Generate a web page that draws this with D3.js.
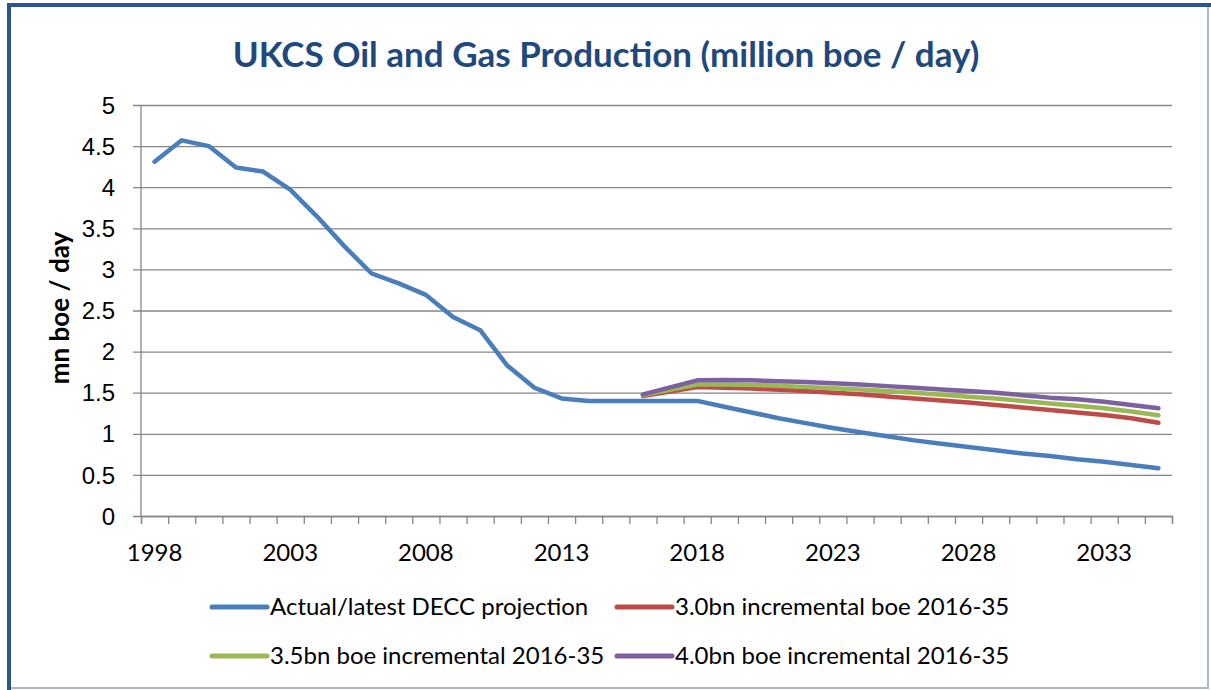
<!DOCTYPE html>
<html>
<head>
  <meta charset="utf-8">
  <script src="https://d3js.org/d3.v7.min.js"></script>
<style>
  body { margin: 0; background: #fff; }
  svg { display: block; font-family: Lato, "Open Sans", sans-serif; }
  .grid line { stroke: #868686; stroke-width: 1.3; }
  .tick-lbl { font-size: 24px; fill: #000; }
  .series { fill: none; stroke-width: 4.5; stroke-linejoin: round; stroke-linecap: round; }
</style>
</head>
<body>
<script>
  // years on the category axis
  var years = d3.range(1998, 2036);
  var yTicks = [0, 0.5, 1, 1.5, 2, 2.5, 3, 3.5, 4, 4.5, 5];
  var xLabelYears = [1998, 2003, 2008, 2013, 2018, 2023, 2028, 2033];

  // Actual / latest DECC projection, 1998-2035
  var actual = [4.31, 4.57, 4.50, 4.24, 4.19, 3.97, 3.64, 3.28, 2.95, 2.83,
                2.69, 2.42, 2.26, 1.83, 1.56, 1.43, 1.40, 1.40, 1.40, 1.40,
                1.40, 1.33, 1.26, 1.19, 1.13, 1.07, 1.02, 0.97, 0.92, 0.88,
                0.84, 0.80, 0.76, 0.73, 0.69, 0.66, 0.62, 0.58];

  // incremental scenarios, 2016-2035
  var projYears = d3.range(2016, 2036);
  var inc30 = [1.46, 1.515, 1.57, 1.56, 1.55, 1.535, 1.52, 1.50, 1.48, 1.455,
               1.43, 1.405, 1.38, 1.35, 1.32, 1.29, 1.26, 1.23, 1.19, 1.135];
  var inc35 = [1.47, 1.535, 1.60, 1.60, 1.595, 1.585, 1.57, 1.555, 1.54, 1.52,
               1.50, 1.475, 1.45, 1.43, 1.40, 1.37, 1.34, 1.31, 1.27, 1.225];
  var inc40 = [1.48, 1.565, 1.65, 1.655, 1.65, 1.64, 1.63, 1.615, 1.60, 1.58,
               1.56, 1.54, 1.52, 1.50, 1.47, 1.44, 1.42, 1.39, 1.35, 1.31];

  var seriesNames = ["Actual/latest DECC projection", "3.0bn incremental boe 2016-35",
                     "3.5bn boe incremental 2016-35", "4.0bn boe incremental 2016-35"];
  var colors = ["#4A7EBB", "#BE4B48", "#98B954", "#7D60A0"];

  var W = 1211, H = 690;
  var svg = d3.select("body").append("svg")
      .attr("width", W)
      .attr("height", H);

  // chart frame
  svg.append("line").attr("x1", 1208).attr("x2", 1208).attr("y1", 4).attr("y2", 689)
      .attr("stroke", "#A9B8CB").attr("stroke-width", 2);
  svg.append("line").attr("x1", 9).attr("x2", 1209).attr("y1", 688).attr("y2", 688)
      .attr("stroke", "#A9B8CB").attr("stroke-width", 2);
  svg.append("line").attr("x1", 9).attr("x2", 9).attr("y1", 4).attr("y2", 690)
      .attr("stroke", "#2B5690").attr("stroke-width", 4);
  svg.append("line").attr("x1", 7).attr("x2", 1211).attr("y1", 5).attr("y2", 5)
      .attr("stroke", "#2B5690").attr("stroke-width", 4);

  var plotL = 141, plotR = 1172, plotT = 105, plotB = 516;

  var x = d3.scaleBand().domain(years).range([plotL, plotR]);
  var xEdge = d3.scaleLinear().domain([0, years.length]).range([plotL, plotR]);
  var y = d3.scaleLinear().domain([0, 5]).range([plotB, plotT]);
  var cx = function (yr) { return x(yr) + x.bandwidth() / 2; };

  // title
  svg.append("text")
      .attr("x", 606).attr("y", 67)
      .attr("text-anchor", "middle")
      .style("font-size", "35px").style("font-weight", "bold")
      .attr("fill", "#1F497D")
      .text("UKCS Oil and Gas Production (million boe / day)");

  // gridlines + y axis
  var yAxis = d3.axisLeft(y).tickValues(yTicks).tickSize(-(plotR - plotL)).tickFormat(d3.format("~g"));
  var gy = svg.append("g").attr("class", "grid").attr("transform", "translate(" + plotL + ",0)").call(yAxis);
  gy.select(".domain").remove();
  gy.selectAll(".tick line").attr("x1", -8);
  gy.selectAll(".tick text").attr("class", "tick-lbl").attr("x", -26).attr("dy", "0.34em");
  svg.append("line").attr("x1", plotL).attr("x2", plotL).attr("y1", plotT).attr("y2", plotB)
      .attr("stroke", "#868686").attr("stroke-width", 1.3);

  // x axis: ticks between categories, labels every 5 years
  var xAxis = d3.axisBottom(xEdge).tickValues(d3.range(0, years.length + 1)).tickSize(8).tickFormat("");
  var gx = svg.append("g").attr("class", "grid").attr("transform", "translate(0," + plotB + ")").call(xAxis);
  gx.select(".domain").attr("stroke", "#868686").attr("stroke-width", 1.3);
  gx.selectAll(".tick line").attr("stroke", "#868686").attr("stroke-width", 1.3);

  svg.append("g").selectAll("text")
      .data(xLabelYears)
      .enter().append("text")
      .attr("class", "tick-lbl")
      .attr("x", function (d) { return cx(d); })
      .attr("y", 561)
      .attr("text-anchor", "middle")
      .text(function (d) { return d; });

  // y axis title
  svg.append("text")
      .attr("transform", "translate(69,308) rotate(-90)")
      .attr("text-anchor", "middle")
      .style("font-size", "26px").style("font-weight", "bold")
      .text("mn boe / day");

  // lines
  var line = d3.line()
      .x(function (d) { return cx(d[0]); })
      .y(function (d) { return y(d[1]); });

  var seriesData = [
    d3.zip(years, actual),
    d3.zip(projYears, inc30),
    d3.zip(projYears, inc35),
    d3.zip(projYears, inc40)
  ];

  svg.append("g").selectAll("path")
      .data(seriesData)
      .enter().append("path")
      .attr("class", "series")
      .attr("stroke", function (d, i) { return colors[i]; })
      .attr("d", line);

  // legend
  var legPos = [[212, 607], [617, 607], [212, 656], [617, 656]];
  var leg = svg.append("g").selectAll("g")
      .data(seriesNames)
      .enter().append("g")
      .attr("transform", function (d, i) { return "translate(" + legPos[i][0] + "," + legPos[i][1] + ")"; });
  leg.append("line")
      .attr("x1", 0).attr("x2", 55)
      .attr("stroke", function (d, i) { return colors[i]; })
      .attr("stroke-width", 5).attr("stroke-linecap", "round");
  leg.append("text")
      .attr("x", 58).attr("dy", "0.35em")
      .style("font-size", "24px")
      .text(function (d) { return d; });
</script>
</body>
</html>
